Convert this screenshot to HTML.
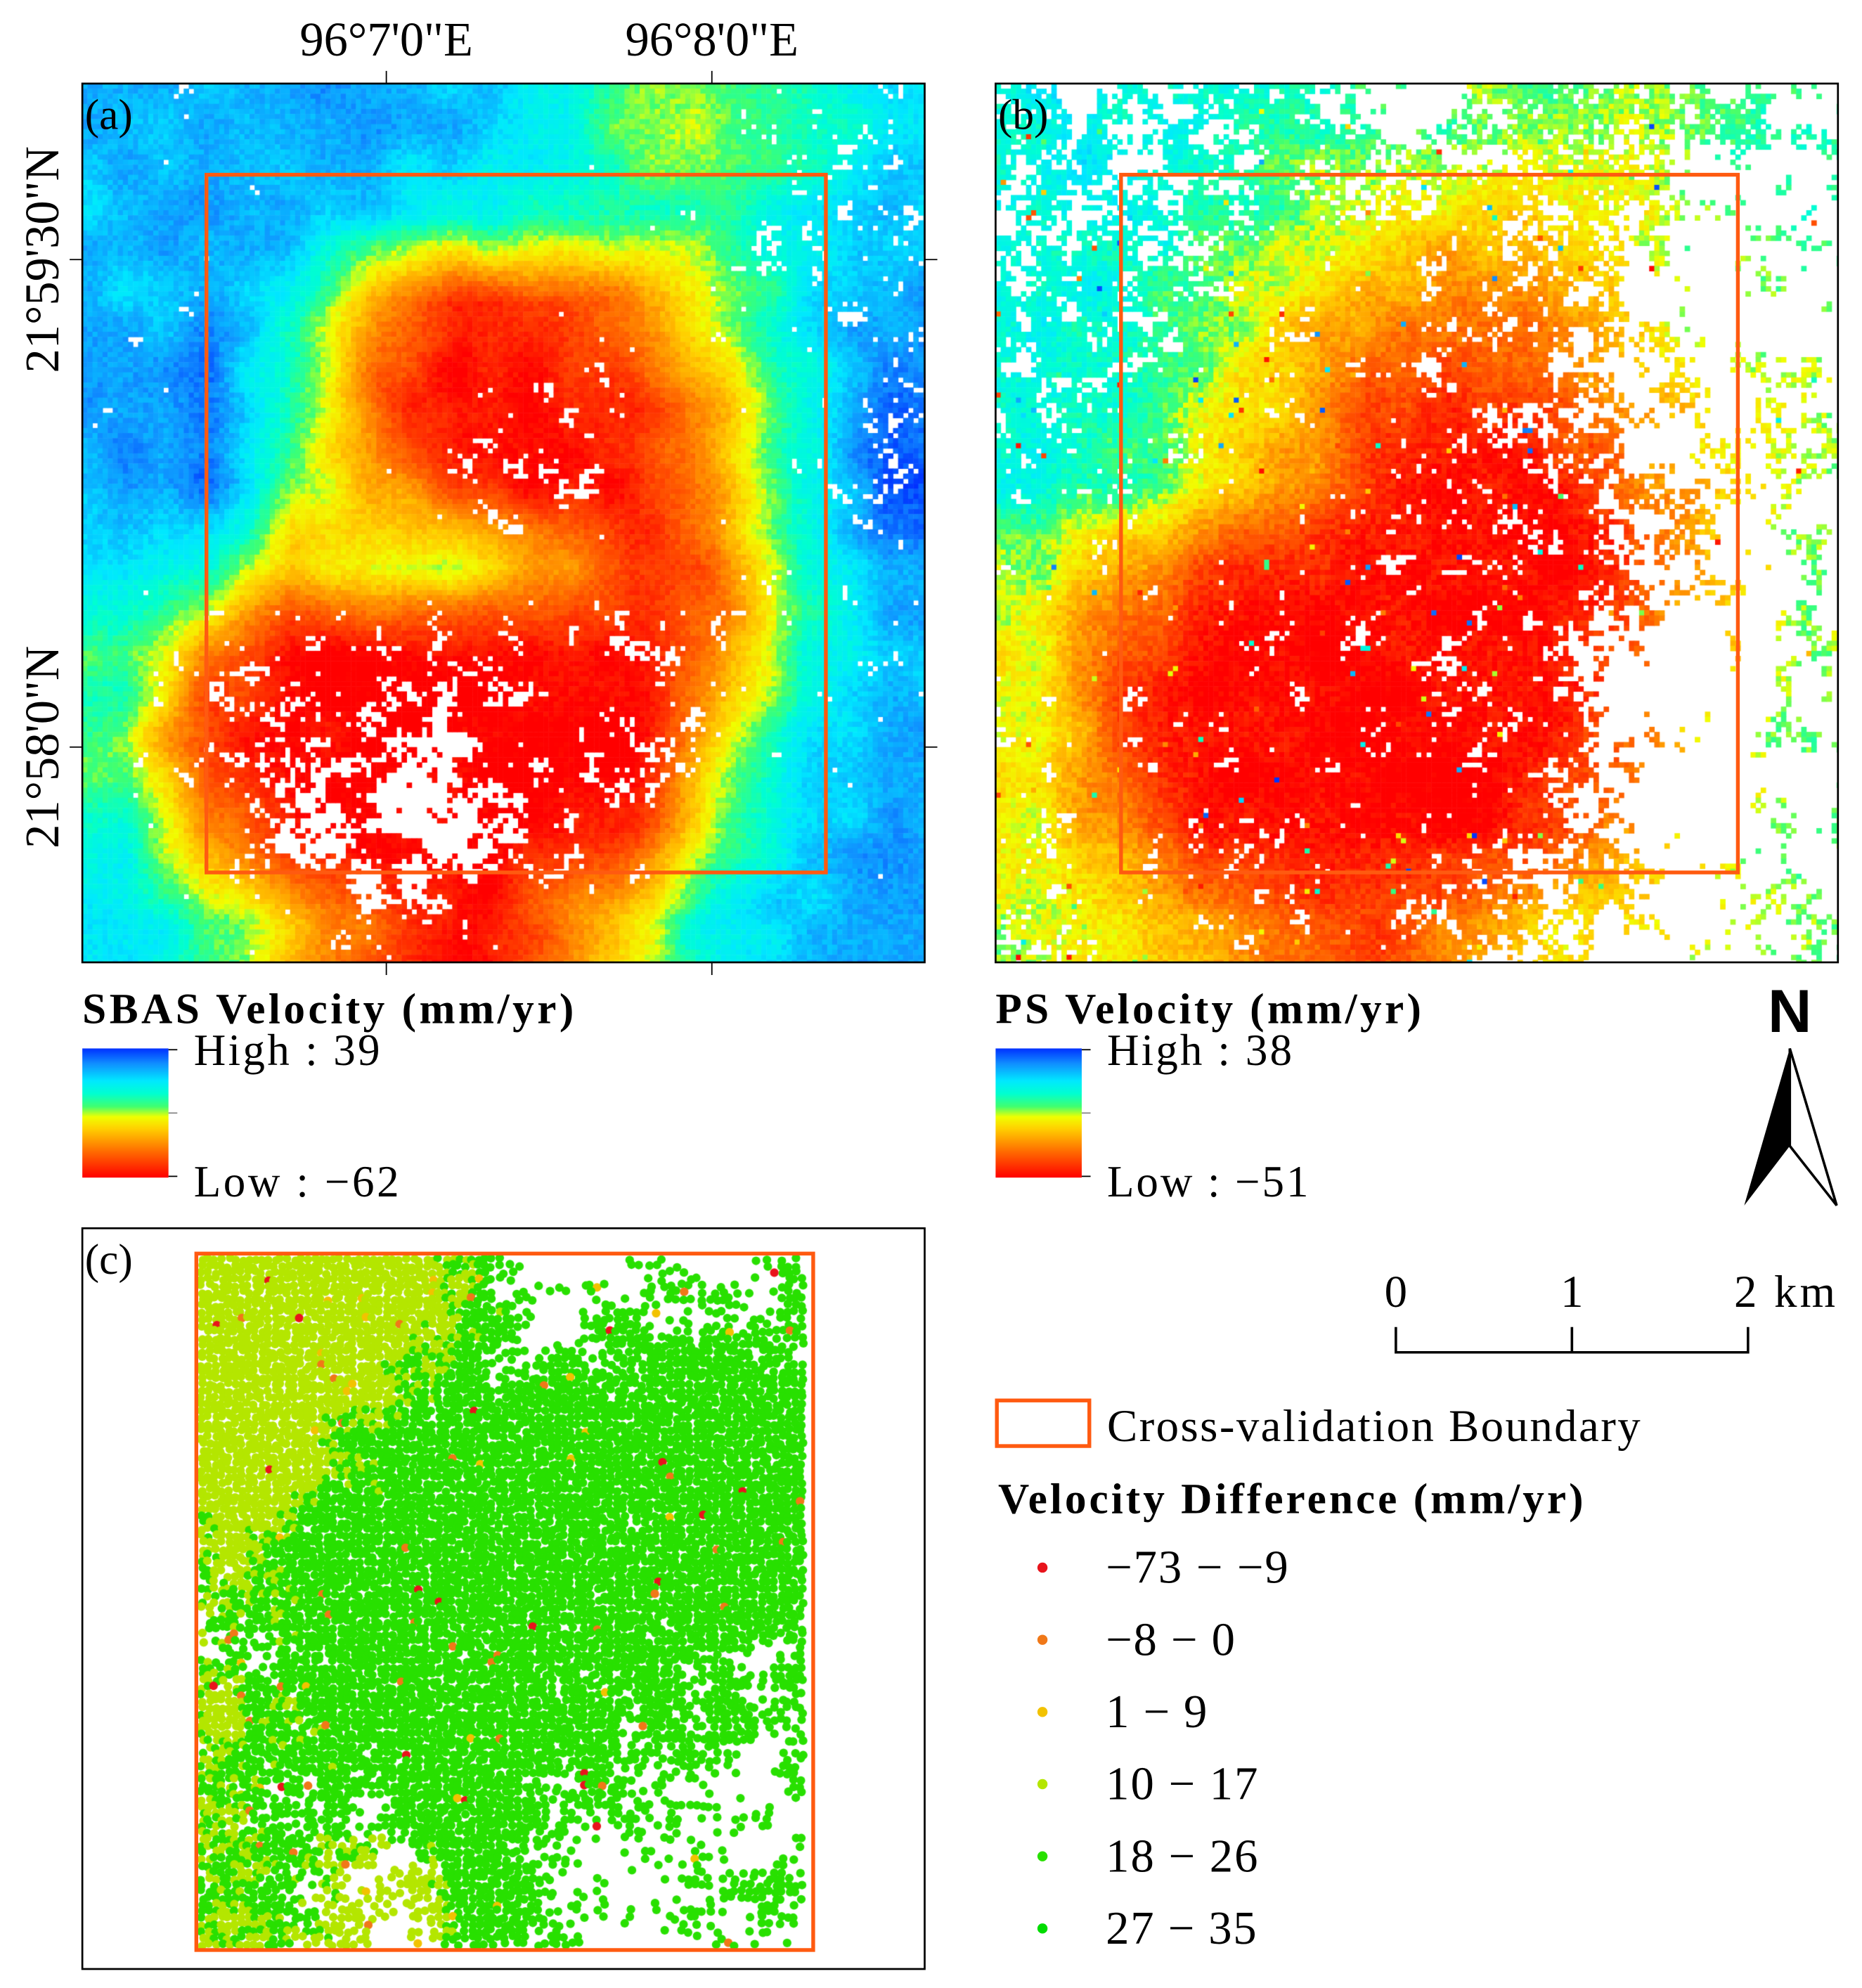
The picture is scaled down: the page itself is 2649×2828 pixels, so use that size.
<!DOCTYPE html>
<html><head><meta charset="utf-8"><style>
html,body{margin:0;padding:0;background:#fff}
#wrap{position:relative;width:2649px;height:2828px;overflow:hidden}
#cv{position:absolute;left:0;top:0}
#ov{position:absolute;left:0;top:0}
text{font-family:"Liberation Serif",serif;fill:#000}
</style></head><body>
<div id="wrap">
<canvas id="cv" width="2649" height="2828"></canvas>
<svg id="ov" width="2649" height="2828" viewBox="0 0 1470 1570" preserveAspectRatio="none">
<defs>
<linearGradient id="cb" x1="0" y1="1" x2="0" y2="0">
<stop offset="0" stop-color="#ff0000"/><stop offset="0.2" stop-color="#ff6a00"/><stop offset="0.38" stop-color="#ffd000"/><stop offset="0.47" stop-color="#f0ff00"/><stop offset="0.55" stop-color="#40ff70"/><stop offset="0.65" stop-color="#00ffd0"/><stop offset="0.75" stop-color="#00e8ff"/><stop offset="0.88" stop-color="#1090ff"/><stop offset="1" stop-color="#0030ff"/>
</linearGradient>
</defs>
<g>
<rect x="65" y="66" width="665" height="694" fill="none" stroke="#000" stroke-width="1.5"/>
<rect x="163" y="138" width="489" height="551" fill="none" stroke="#ff5a10" stroke-width="3"/>
<line x1="305" y1="56" x2="305" y2="66" stroke="#000"/><line x1="562" y1="56" x2="562" y2="66" stroke="#000"/>
<line x1="305" y1="760" x2="305" y2="770" stroke="#000"/><line x1="562" y1="760" x2="562" y2="770" stroke="#000"/>
<line x1="55" y1="205" x2="65" y2="205" stroke="#000"/><line x1="55" y1="590" x2="65" y2="590" stroke="#000"/>
<line x1="730" y1="205" x2="740" y2="205" stroke="#000"/><line x1="730" y1="590" x2="740" y2="590" stroke="#000"/>
<text x="67" y="102" font-size="34">(a)</text>
</g>
<text x="305" y="44" font-size="38" text-anchor="middle">96°7'0"E</text>
<text x="562" y="44" font-size="38" text-anchor="middle">96°8'0"E</text>
<text transform="translate(46,205) rotate(-90)" font-size="38" text-anchor="middle">21°59'30"N</text>
<text transform="translate(46,590) rotate(-90)" font-size="38" text-anchor="middle">21°58'0"N</text>
<g>
<rect x="786" y="66" width="665" height="694" fill="none" stroke="#000" stroke-width="1.5"/>
<rect x="885" y="138" width="487" height="551" fill="none" stroke="#ff5a10" stroke-width="3"/>
<text x="788" y="102" font-size="34">(b)</text>
</g>
<g>
<text x="65" y="808" font-size="34" font-weight="bold" textLength="388" lengthAdjust="spacing">SBAS Velocity (mm/yr)</text>
<rect x="65" y="828" width="68" height="102" fill="url(#cb)"/>
<line x1="133" y1="829" x2="140" y2="829" stroke="#000"/><line x1="133" y1="879" x2="140" y2="879" stroke="#888"/><line x1="133" y1="929" x2="140" y2="929" stroke="#000"/>
<text x="153" y="841" font-size="35" textLength="147" lengthAdjust="spacing">High : 39</text>
<text x="153" y="945" font-size="35" textLength="162" lengthAdjust="spacing">Low : −62</text>
</g>
<g>
<text x="786" y="808" font-size="34" font-weight="bold" textLength="336" lengthAdjust="spacing">PS Velocity (mm/yr)</text>
<rect x="786" y="828" width="68" height="102" fill="url(#cb)"/>
<line x1="854" y1="829" x2="861" y2="829" stroke="#000"/><line x1="854" y1="879" x2="861" y2="879" stroke="#888"/><line x1="854" y1="929" x2="861" y2="929" stroke="#000"/>
<text x="874" y="841" font-size="35" textLength="146" lengthAdjust="spacing">High : 38</text>
<text x="874" y="945" font-size="35" textLength="159" lengthAdjust="spacing">Low : −51</text>
</g>
<g>
<text x="1413" y="815" font-size="48" font-weight="bold" text-anchor="middle" style="font-family:'Liberation Sans',sans-serif">N</text>
<polygon points="1413,828 1377,952 1413,905" fill="#000"/>
<polygon points="1413,828 1450,952 1413,905" fill="#fff" stroke="#000" stroke-width="2"/>
</g>
<g>
<text x="1102" y="1032" font-size="36" text-anchor="middle">0</text>
<text x="1241" y="1032" font-size="36" text-anchor="middle">1</text>
<text x="1369" y="1032" font-size="36" textLength="80" lengthAdjust="spacing">2 km</text>
<polyline points="1102,1048 1102,1068 1380,1068 1380,1048" fill="none" stroke="#000" stroke-width="2"/>
<line x1="1241" y1="1048" x2="1241" y2="1068" stroke="#000" stroke-width="2"/>
</g>
<g>
<rect x="65" y="970" width="665" height="585" fill="none" stroke="#000" stroke-width="1.5"/>
<rect x="155" y="990" width="487" height="550" fill="none" stroke="#ff5a10" stroke-width="3"/>
<text x="67" y="1006" font-size="34">(c)</text>
</g>
<g>
<rect x="787" y="1106" width="73" height="36" fill="none" stroke="#ff5a10" stroke-width="3"/>
<text x="874" y="1138" font-size="36" textLength="421" lengthAdjust="spacing">Cross-validation Boundary</text>
<text x="788" y="1195" font-size="34" font-weight="bold" textLength="462" lengthAdjust="spacing">Velocity Difference (mm/yr)</text>
<g id="legItems"></g>
</g>
</svg>
</div>
<script>
// difference classes
const classLabels=["−73 − −9","−8 − 0","1 − 9","10 − 17","18 − 26","27 − 35"];
const classColors=["#e8141c","#f07818","#f2c200","#b4e600","#28e000","#00dc00"];
const labelWidths=[144,102,80,120,120,119];
// Panel a normalized velocity grid (0=low/red, 1=high/blue)
const gridA=[
[0.8,0.8,0.85,0.85,0.8,0.7,0.55,0.5,0.6,0.75],
[0.8,0.85,0.8,0.75,0.7,0.65,0.6,0.6,0.7,0.8],
[0.8,0.85,0.7,0.3,0.05,0.1,0.25,0.5,0.7,0.85],
[0.85,0.9,0.6,0.15,0.0,0.05,0.1,0.35,0.7,0.9],
[0.85,0.95,0.55,0.3,0.1,0.0,0.05,0.3,0.7,0.95],
[0.75,0.7,0.35,0.5,0.45,0.3,0.1,0.2,0.6,0.85],
[0.6,0.2,0.0,0.0,0.0,0.0,0.05,0.25,0.65,0.8],
[0.55,0.1,0.0,0.0,0.0,0.0,0.0,0.4,0.7,0.85],
[0.65,0.3,0.0,0.0,0.0,0.0,0.1,0.5,0.75,0.85],
[0.75,0.6,0.35,0.15,0.0,0.2,0.45,0.7,0.8,0.85]];
const voidA=[
[0.03,0.05,0.02,0,0,0.05,0,0,0.1,0.2],
[0.05,0.05,0,0,0,0,0,0.1,0.3,0.3],
[0.05,0.02,0,0,0,0,0,0.1,0.2,0.2],
[0.03,0,0,0,0,0.2,0.1,0.1,0.1,0.2],
[0,0,0,0,0.2,0.35,0.1,0,0.1,0.2],
[0,0,0,0,0,0,0.05,0.05,0.05,0.1],
[0,0.2,0.2,0.3,0.2,0.1,0.3,0.1,0.05,0.05],
[0,0.3,0.3,0.45,0.4,0.2,0.3,0.1,0,0.05],
[0,0.1,0.4,0.45,0.5,0.3,0.2,0,0,0.05],
[0,0,0.1,0.3,0.1,0.05,0,0,0,0]];
const gridB=[
[0.7,0.7,0.65,0.6,0.6,0.55,0.55,0.5,0.6,0.6],
[0.7,0.7,0.6,0.55,0.45,0.4,0.4,0.45,0.55,0.6],
[0.7,0.65,0.55,0.4,0.3,0.2,0.3,0.4,0.5,0.55],
[0.7,0.65,0.5,0.35,0.15,0.1,0.15,0.3,0.45,0.5],
[0.7,0.6,0.45,0.3,0.1,0.0,0.05,0.2,0.4,0.5],
[0.5,0.3,0.1,0.05,0.05,0.0,0.0,0.1,0.35,0.5],
[0.45,0.15,0.0,0.0,0.0,0.0,0.0,0.15,0.4,0.5],
[0.45,0.15,0.0,0.0,0.0,0.0,0.05,0.2,0.45,0.55],
[0.45,0.25,0.05,0.0,0.0,0.0,0.1,0.3,0.45,0.55],
[0.5,0.4,0.3,0.2,0.1,0.25,0.4,0.45,0.5,0.55]];
const voidB=[
[0.3,0.5,0.3,0.2,0.6,0.5,0.2,0.3,0.4,0.6],
[0.3,0.4,0.3,0.2,0.3,0.2,0.3,0.4,0.8,0.7],
[0.3,0.3,0.2,0.1,0.1,0.2,0.3,0.5,0.8,0.7],
[0.3,0.2,0.1,0.2,0.2,0.2,0.4,0.5,0.7,0.6],
[0.2,0.1,0.1,0.1,0.1,0.1,0.3,0.4,0.7,0.6],
[0.1,0.1,0.1,0.1,0.2,0.2,0.2,0.3,0.7,0.6],
[0.1,0.1,0.1,0.1,0.2,0.2,0.2,0.6,0.8,0.6],
[0.1,0.1,0.1,0.1,0.2,0.2,0.3,0.7,0.8,0.6],
[0.1,0.1,0.1,0.1,0.1,0.1,0.2,0.6,0.8,0.6],
[0.2,0.1,0.1,0.2,0.1,0.3,0.5,0.5,0.6,0.6]];
const classGridC=[
[3,3,3,3.5,4,4,4,4],
[3,3,3.3,4,4,4,4,4],
[3,3.3,4,4,4,4,4,4],
[3.5,4,4,4,4,4,4,4],
[3.5,4,4,4,4,4,4,4],
[3.5,3.8,4,4,4,4,4,4],
[3.5,4,4,4,4,4,4,4],
[3.5,3.5,2.5,4,4,4,4,4]];
const densityC=[
[0.9,0.9,0.9,0.8,0.3,0.2,0.4,0.5],
[0.9,0.9,0.9,0.8,0.7,0.8,0.9,0.8],
[0.9,0.9,0.9,0.9,0.8,0.7,0.9,0.9],
[0.8,0.9,0.95,0.9,0.8,0.8,0.9,0.9],
[0.5,0.8,0.95,0.9,0.9,0.7,0.8,0.5],
[0.8,0.8,0.9,0.9,0.8,0.6,0.6,0.4],
[0.8,0.6,0.4,0.8,0.7,0.4,0.3,0.3],
[0.8,0.5,0.4,0.7,0.6,0.3,0.3,0.5]];

const stops=[[0,[255,0,0]],[0.2,[255,106,0]],[0.38,[255,208,0]],[0.47,[240,255,0]],[0.55,[64,255,112]],[0.65,[0,255,208]],[0.75,[0,232,255]],[0.88,[16,144,255]],[1,[0,48,255]]];
function cmap(t){t=Math.max(0,Math.min(1,t));for(let i=1;i<stops.length;i++){if(t<=stops[i][0]){const a=stops[i-1],b=stops[i],f=(t-a[0])/(b[0]-a[0]);return a[1].map((v,k)=>Math.round(v+(b[1][k]-v)*f));}}return stops[stops.length-1][1];}
function hash(i,j,s){let h=(i*374761393+j*668265263+s*982451653)|0;h=(h^(h>>>13))*1274126177|0;h=h^(h>>>16);return ((h>>>0)%10000)/10000;}
function vnoise(x,y,s){const x0=Math.floor(x),y0=Math.floor(y),fx=x-x0,fy=y-y0;const sx=fx*fx*(3-2*fx),sy=fy*fy*(3-2*fy);
const a=hash(x0,y0,s),b=hash(x0+1,y0,s),c=hash(x0,y0+1,s),d=hash(x0+1,y0+1,s);return a*(1-sx)*(1-sy)+b*sx*(1-sy)+c*(1-sx)*sy+d*sx*sy;}
function interp(g,u,v){const R=g.length,C=g[0].length;let x=u*C-0.5,y=v*R-0.5;x=Math.max(0,Math.min(C-1,x));y=Math.max(0,Math.min(R-1,y));const x0=Math.floor(x),y0=Math.floor(y),x1=Math.min(C-1,x0+1),y1=Math.min(R-1,y0+1),fx=x-x0,fy=y-y0;return g[y0][x0]*(1-fx)*(1-fy)+g[y0][x1]*fx*(1-fy)+g[y1][x0]*(1-fx)*fy+g[y1][x1]*fx*fy;}
const cv=document.getElementById('cv');const ctx=cv.getContext('2d');
ctx.setTransform(2649/1470,0,0,2828/1570,0,0);
function raster(x0,y0,w,h,g,vg,seed,noise){const cs=4;const nx=Math.ceil(w/cs),ny=Math.ceil(h/cs);
for(let j=0;j<ny;j++)for(let i=0;i<nx;i++){const u=(i+0.5)/nx,v=(j+0.5)/ny;
const vp=interp(vg,u,v);
const n=0.4*vnoise(i/5,j/5,seed+30)+0.3*vnoise(i/2,j/2,seed+31)+0.3*hash(i,j,seed+7);
if(vp>0.01&&n<0.18+0.75*vp)continue;
let t=interp(g,u,v)+(hash(i,j,seed)-0.5)*noise+(vnoise(i/8,j/8,seed+40)-0.5)*0.1;
if(seed===2&&hash(i,j,99)<0.01)t=hash(i,j,98);
const c=cmap(t);ctx.fillStyle='rgb('+c[0]+','+c[1]+','+c[2]+')';
ctx.fillRect(x0+i*cs,y0+j*cs,Math.min(cs,w-i*cs)+0.3,Math.min(cs,h-j*cs)+0.3);}}
raster(65,66,665,694,gridA,voidA,1,0.07);
raster(786,66,665,694,gridB,voidB,2,0.1);
// panel c points
(function(){const bx=157,by=992,bw=483,bh=546,step=5.2;const nx=Math.floor(bw/step),ny=Math.floor(bh/step);
for(let j=0;j<ny;j++)for(let i=0;i<nx;i++){const u=(i+0.5)/nx,v=(j+0.5)/ny;
const d=interp(densityC,u,v);const n=0.5*vnoise(i/5,j/5,50)+0.5*hash(i,j,11);if(n>d*1.05)continue;
let c=interp(classGridC,u,v);const r=hash(i,j,12);
let k=Math.round(c+(0.5*vnoise(i/4,j/4,13)+0.5*hash(i,j,16)-0.5)*1.0);
if(r<0.003)k=0;else if(r<0.007)k=1;else if(r<0.012)k=2;
k=Math.max(0,Math.min(5,k));
const px=bx+(i+0.5)*step+(hash(i,j,14)-0.5)*3,py=by+(j+0.5)*step+(hash(i,j,15)-0.5)*3;
ctx.fillStyle=classColors[k];ctx.beginPath();ctx.arc(px,py,3.4,0,Math.PI*2);ctx.fill();}})();
// legend items
const lg=document.getElementById('legItems');const NS='http://www.w3.org/2000/svg';
classLabels.forEach((lab,i)=>{const y=1238+i*57;
const g=document.createElementNS(NS,'g');


const c=document.createElementNS(NS,'circle');c.setAttribute('cx',823);c.setAttribute('cy',y);c.setAttribute('r',4);c.setAttribute('fill',classColors[i]);
const t=document.createElementNS(NS,'text');t.setAttribute('x',873);t.setAttribute('y',y+12);t.setAttribute('font-size','37');t.setAttribute('textLength',labelWidths[i]);t.setAttribute('lengthAdjust','spacing');t.textContent=lab;
g.appendChild(c);g.appendChild(t);lg.appendChild(g);});
</script>
</body></html>
